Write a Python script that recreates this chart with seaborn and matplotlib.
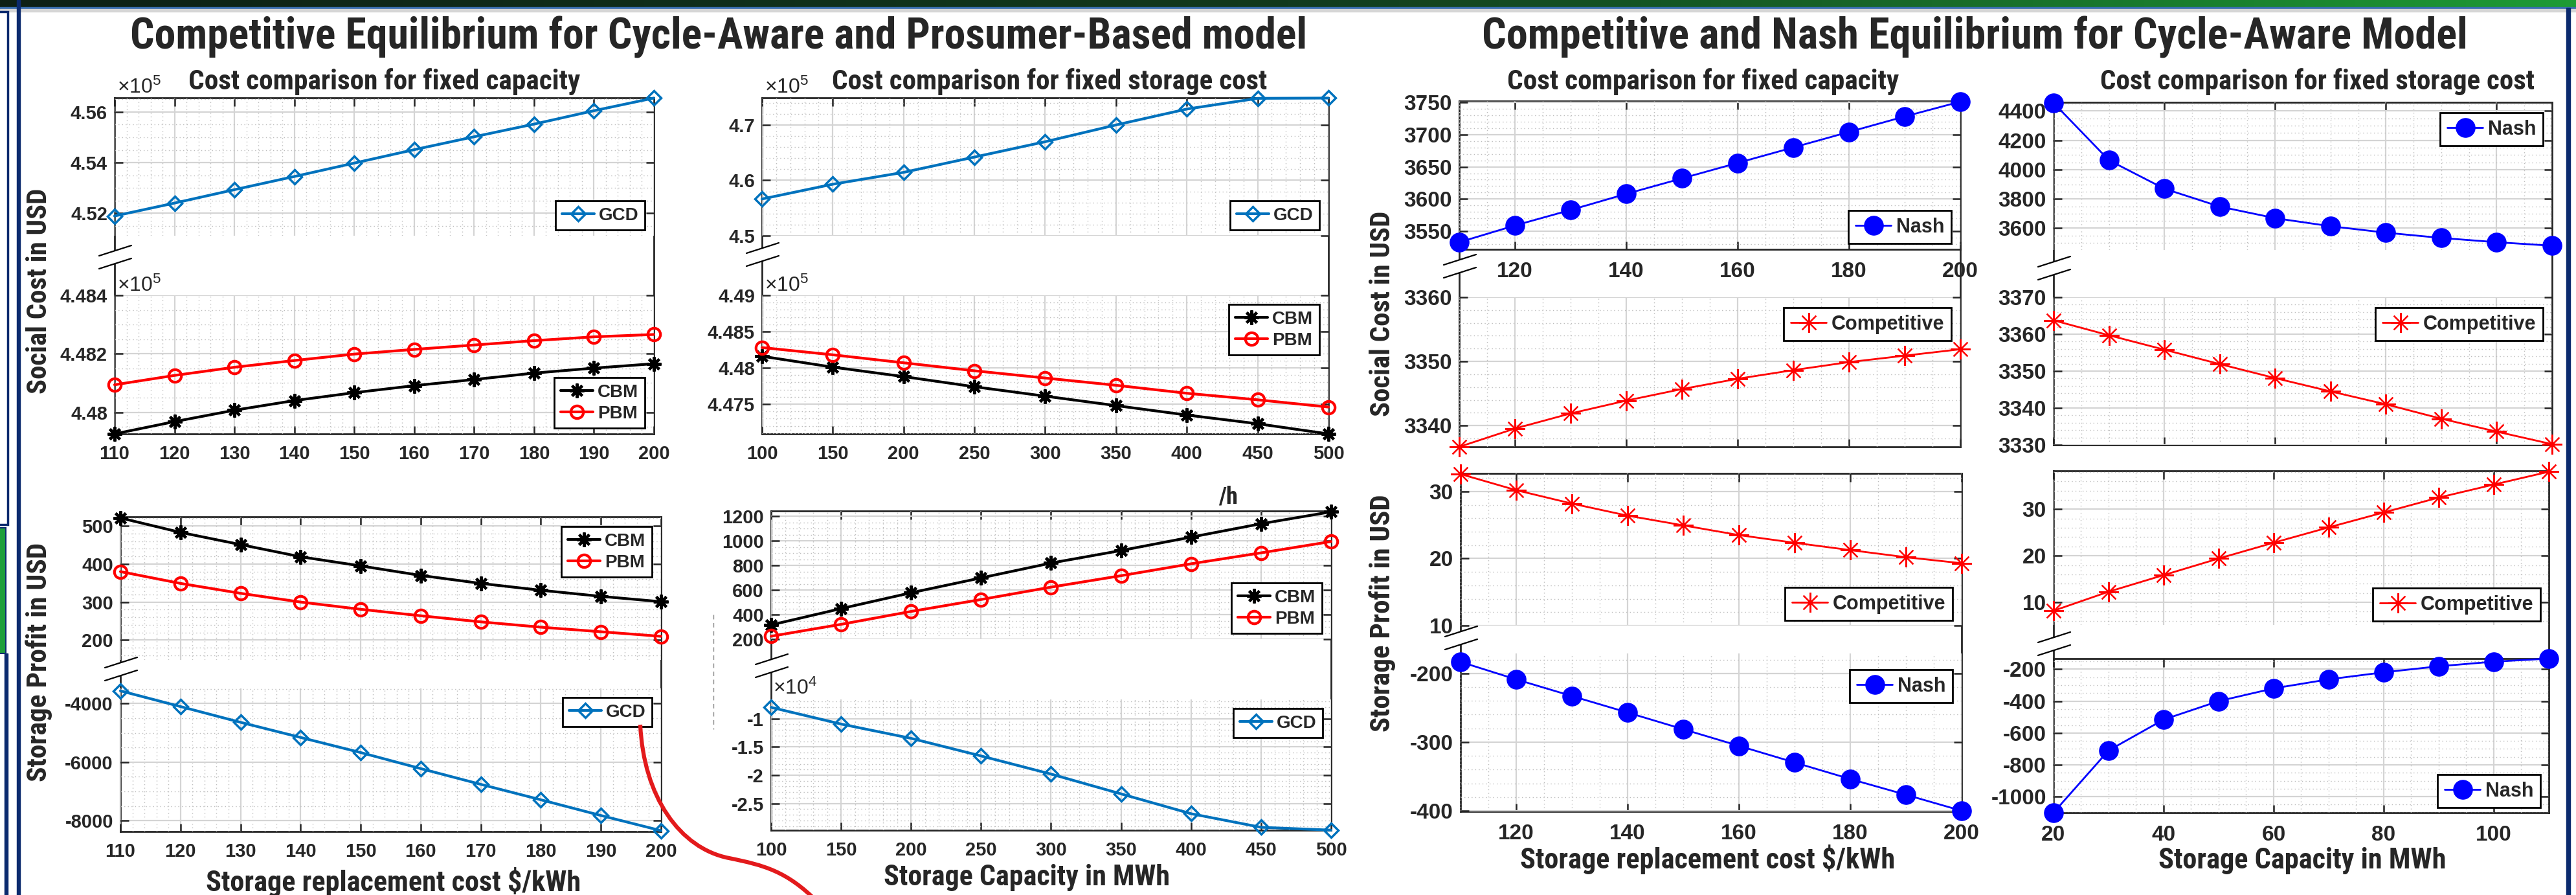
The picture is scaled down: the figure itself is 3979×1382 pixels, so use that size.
import matplotlib
matplotlib.use("Agg")
import numpy as np
import matplotlib.pyplot as plt
import matplotlib.transforms as mtransforms
from matplotlib.path import Path
from matplotlib.patches import PathPatch, Rectangle
from matplotlib.lines import Line2D
from matplotlib.colors import LinearSegmentedColormap
from matplotlib.ticker import FixedLocator, AutoMinorLocator, FuncFormatter
from matplotlib import font_manager
import seaborn as sns

W, H = 3980, 1382

repl_cost = [110, 120, 130, 140, 150, 160, 170, 180, 190, 200]      # $/kWh
capacity_mwh = [100, 150, 200, 250, 300, 350, 400, 450, 500]        # MWh
capacity_small = [20, 30, 40, 50, 60, 70, 80, 90, 100, 110]         # MWh

# Cycle-aware (CBM), prosumer-based (PBM) and GCD - social cost in USD
gcd_cost_vs_repl = [451890, 452400, 452930, 453450, 453980, 454510, 455020, 455520, 456050, 456550]
pbm_cost_vs_repl = [448094, 448126, 448154, 448177, 448199, 448215, 448230, 448245, 448258, 448266]
cbm_cost_vs_repl = [447926, 447968, 448007, 448040, 448067, 448091, 448112, 448134, 448151, 448166]
gcd_cost_vs_cap = [456630, 459300, 461440, 464200, 466970, 470000, 472870, 474800, 474850]
pbm_cost_vs_cap = [448280, 448180, 448070, 447960, 447860, 447760, 447650, 447560, 447460]
cbm_cost_vs_cap = [448160, 448010, 447880, 447740, 447610, 447480, 447350, 447230, 447090]

# storage profit in USD
cbm_profit_vs_repl = [521, 483, 451, 419, 395, 370, 349, 331, 315, 301]
pbm_profit_vs_repl = [380, 349, 323, 300, 281, 264, 248, 234, 222, 210]
gcd_profit_vs_repl = [-3566, -4103, -4641, -5158, -5674, -6222, -6760, -7287, -7824, -8341]
cbm_profit_vs_cap = [316, 449, 578, 699, 820, 922, 1031, 1140, 1237]
pbm_profit_vs_cap = [224, 321, 426, 523, 624, 717, 814, 903, 995]
gcd_profit_vs_cap = [-8020, -10970, -13490, -16600, -19800, -23300, -26800, -29200, -29700]

# Competitive vs Nash equilibrium (cycle-aware model)
nash_cost_vs_repl = [3533, 3559, 3583, 3608, 3632, 3656, 3680, 3704, 3728, 3751]
comp_cost_vs_repl = [3336.7, 3339.55, 3341.9, 3343.9, 3345.7, 3347.3, 3348.65, 3349.9, 3350.9, 3351.9]
nash_cost_vs_cap = [4455, 4064, 3870, 3748, 3669, 3614, 3570, 3534, 3505, 3481]
comp_cost_vs_cap = [3363.75, 3359.7, 3355.8, 3351.9, 3348.1, 3344.5, 3341.0, 3337.1, 3333.6, 3330.2]
comp_profit_vs_repl = [32.6, 30.2, 28.2, 26.4, 24.95, 23.5, 22.35, 21.26, 20.2, 19.3]
nash_profit_vs_repl = [-183.3, -208.8, -233, -257, -281.3, -305.5, -329.7, -353.8, -376.7, -400]
comp_profit_vs_cap = [8.18, 12.27, 15.84, 19.4, 22.8, 26.1, 29.3, 32.5, 35.3, 38.05]
nash_profit_vs_cap = [-1100, -710, -516, -400, -320, -263, -219, -181, -152, -133]

# ---------------- style ----------------
sns.set_style("white")
have = {f.name for f in font_manager.fontManager.ttflist}
TICK_FONT = "Liberation Sans" if "Liberation Sans" in have else "DejaVu Sans"
# headings on the poster are a condensed bold face, take the closest one installed
HEAD_FONT = "DejaVu Sans"
for cand in ("Roboto Condensed", "Liberation Sans Narrow", "Lato"):
    if cand in have:
        HEAD_FONT = cand
        break
plt.rcParams["font.family"] = [TICK_FONT, "DejaVu Sans"]
plt.rcParams["font.weight"] = "bold"
plt.rcParams["mathtext.default"] = "regular"

INK = "#262626"
STYLE = {
    "GCD": dict(color="#0072BD", marker="D", markersize=11, markerfacecolor="none",
                markeredgecolor="#0072BD", markeredgewidth=2.5, linewidth=3),
    "CBM": dict(color="black", marker=(8, 2, 0), markersize=16,
                markeredgecolor="black", markeredgewidth=3, linewidth=3),
    "PBM": dict(color="red", marker="o", markersize=14, markerfacecolor="none",
                markeredgecolor="red", markeredgewidth=3, linewidth=3),
    "Nash": dict(color="blue", marker="o", markersize=21, markerfacecolor="blue",
                 markeredgecolor="blue", markeredgewidth=1, linewidth=2),
    "Competitive": dict(color="red", marker=(8, 2, 0), markersize=22,
                        markeredgecolor="red", markeredgewidth=1.6, linewidth=2),
}

fig = plt.figure(figsize=(W / 100, H / 100), dpi=100)
fig.patch.set_facecolor("white")
# pixel coordinates, origin top-left
px = mtransforms.Affine2D().scale(1 / W, -1 / H).translate(0, 1) + fig.transFigure


def px_rect(l, t, r, b):
    return [l / W, 1 - b / H, (r - l) / W, (b - t) / H]


fmt = FuncFormatter(lambda v, p: f"{v:g}")

# box = (left, right, top, upper bottom, lower top, bottom) in pixels
panels = [
    dict(box=(177, 1010, 151, 364, 456, 670), x=repl_cost, xticks=repl_cost, xlim=(110, 200),
         xlabels="lower", brk=397, small=True,
         upper=dict(series=[("GCD", gcd_cost_vs_repl)], scale=1e5, ylim=(4.5111, 4.5656),
                    yticks=[4.52, 4.54, 4.56], legend=(996, 310), exp=(181, 144, 5)),
         lower=dict(series=[("CBM", cbm_cost_vs_repl), ("PBM", pbm_cost_vs_repl)], scale=1e5,
                    ylim=(4.47926, 4.484), yticks=[4.48, 4.482, 4.484], legend=(996, 583),
                    exp=(181, 450, 5))),
    dict(box=(1177, 2052, 151, 364, 456, 670), x=capacity_mwh, xticks=capacity_mwh, xlim=(100, 500),
         xlabels="lower", brk=393, small=True,
         upper=dict(series=[("GCD", gcd_cost_vs_cap)], scale=1e5, ylim=(4.5, 4.749),
                    yticks=[4.5, 4.6, 4.7], legend=(2038, 310), exp=(1181, 144, 5)),
         lower=dict(series=[("CBM", cbm_cost_vs_cap), ("PBM", pbm_cost_vs_cap)], scale=1e5,
                    ylim=(4.4709, 4.49), yticks=[4.475, 4.48, 4.485, 4.49], legend=(2038, 470),
                    exp=(1181, 450, 5))),
    dict(box=(186, 1021, 798, 1019, 1063, 1284), x=repl_cost, xticks=repl_cost, xlim=(110, 200),
         xlabels="lower", brk=1033, small=True,
         upper=dict(series=[("CBM", cbm_profit_vs_repl), ("PBM", pbm_profit_vs_repl)],
                    ylim=(148, 524), yticks=[200, 300, 400, 500], legend=(1007, 813)),
         lower=dict(series=[("GCD", gcd_profit_vs_repl)], ylim=(-8372, -3483),
                    yticks=[-8000, -6000, -4000], legend=(1007, 1077))),
    dict(box=(1191, 2056, 789, 987, 1080, 1282), x=capacity_mwh, xticks=capacity_mwh, xlim=(100, 500),
         xlabels="lower", brk=1028, small=True,
         upper=dict(series=[("CBM", cbm_profit_vs_cap), ("PBM", pbm_profit_vs_cap)],
                    ylim=(200, 1244), yticks=[200, 400, 600, 800, 1000, 1200], legend=(2042, 900)),
         lower=dict(series=[("GCD", gcd_profit_vs_cap)], scale=1e4, ylim=(-2.972, -0.662),
                    yticks=[-2.5, -2, -1.5, -1], legend=(2043, 1094), exp=(1194, 1072, 4))),
    dict(box=(2254, 3028, 156, 385, 459, 690), x=repl_cost, xticks=[120, 140, 160, 180, 200],
         xlim=(110, 200), xlabels="upper", brk=411, small=False, upper_box=True,
         upper=dict(series=[("Nash", nash_cost_vs_repl)], ylim=(3522, 3752),
                    yticks=[3550, 3600, 3650, 3700, 3750], legend=(3014, 325)),
         lower=dict(series=[("Competitive", comp_cost_vs_repl)], ylim=(3336.7, 3360),
                    yticks=[3340, 3350, 3360], legend=(3014, 475))),
    dict(box=(3172, 3942, 158, 386, 459, 687), x=capacity_small, xticks=[20, 40, 60, 80, 100],
         xlim=(20, 110), xlabels=None, brk=414, small=False,
         upper=dict(series=[("Nash", nash_cost_vs_cap)], ylim=(3452, 4459),
                    yticks=[3600, 3800, 4000, 4200, 4400], legend=(3928, 174)),
         lower=dict(series=[("Competitive", comp_cost_vs_cap)], ylim=(3330, 3370),
                    yticks=[3330, 3340, 3350, 3360, 3370], legend=(3928, 475))),
    dict(box=(2256, 3030, 731, 966, 1009, 1253), x=repl_cost, xticks=[120, 140, 160, 180, 200],
         xlim=(110, 200), xlabels="lower", brk=985, small=False,
         upper=dict(series=[("Competitive", comp_profit_vs_repl)], ylim=(10, 32.7),
                    yticks=[10, 20, 30], legend=(3016, 907)),
         lower=dict(series=[("Nash", nash_profit_vs_repl)], ylim=(-401, -171),
                    yticks=[-400, -300, -200], legend=(3016, 1034))),
    dict(box=(3172, 3937, 727, 965, 1017, 1255), x=capacity_small, xticks=[20, 40, 60, 80, 100],
         xlim=(20, 110), xlabels="lower", brk=994, small=False, lower_box=True,
         upper=dict(series=[("Competitive", comp_profit_vs_cap)], ylim=(5.13, 38.25),
                    yticks=[10, 20, 30], legend=(3924, 908)),
         lower=dict(series=[("Nash", nash_profit_vs_cap)], ylim=(-1101, -133),
                    yticks=[-1000, -800, -600, -400, -200], legend=(3924, 1196))),
]


def draw_panel(p):
    l, r, t, ub, lt, b = p["box"]
    small = p["small"]
    ticksize = 21 if small else 24
    legsize = 20 if small else 22
    xpad = 12 if small else 14

    # outer box shared by both halves of the broken axis
    frame = fig.add_axes(px_rect(l, t, r, b), zorder=0)
    frame.set_xticks([])
    frame.set_yticks([])
    frame.set_facecolor("white")
    for s in frame.spines.values():
        s.set_linewidth(2)
        s.set_color(INK)

    for key, (top, bot) in (("upper", (t, ub)), ("lower", (lt, b))):
        part = p[key]
        ax = fig.add_axes(px_rect(l, top, r, bot), zorder=1)
        ax.set_facecolor("none")
        for s in ax.spines.values():
            s.set_visible(False)
        scale = part.get("scale", 1)
        for name, vals in part["series"]:
            sns.lineplot(x=p["x"], y=np.asarray(vals) / scale, ax=ax, label=name,
                         clip_on=False, zorder=3, **STYLE[name])
        ax.set_xlim(p["xlim"])
        ax.set_ylim(part["ylim"])
        ax.set_xlabel("")
        ax.set_ylabel("")
        ax.xaxis.set_major_locator(FixedLocator(p["xticks"]))
        ax.yaxis.set_major_locator(FixedLocator(part["yticks"]))
        ax.xaxis.set_minor_locator(AutoMinorLocator())
        ax.yaxis.set_minor_locator(AutoMinorLocator())
        ax.xaxis.set_major_formatter(fmt)
        ax.yaxis.set_major_formatter(fmt)

        show_lab = p["xlabels"] == key
        if key == "upper":
            ax.tick_params(axis="x", top=True, bottom=p.get("upper_box", False),
                           labelbottom=show_lab)
            if p.get("upper_box", False):
                ax.spines["bottom"].set_visible(True)
                ax.spines["bottom"].set_linewidth(2)
                ax.spines["bottom"].set_color(INK)
        else:
            ax.tick_params(axis="x", bottom=True, top=p.get("lower_box", False),
                           labelbottom=show_lab)
            if p.get("lower_box", False):
                ax.spines["top"].set_visible(True)
                ax.spines["top"].set_linewidth(2)
                ax.spines["top"].set_color(INK)
        ax.tick_params(which="major", direction="in", length=9, width=1.8, color=INK,
                       labelsize=ticksize, labelcolor=INK, left=True, right=True)
        ax.tick_params(axis="x", which="major", pad=xpad)
        ax.tick_params(axis="y", which="major", pad=8)
        ax.tick_params(which="minor", length=0)
        ax.grid(True, which="major", color="#d4d4d4", linewidth=1.6)
        ax.grid(True, which="minor", color="#bdbdbd", linewidth=1.0, linestyle=(0, (1, 3)))
        ax.set_axisbelow(True)

        leg = ax.legend(loc="upper right", bbox_to_anchor=part["legend"], bbox_transform=px,
                        prop=dict(family=TICK_FONT, weight="bold", size=legsize),
                        frameon=True, fancybox=False, framealpha=1, edgecolor="black",
                        borderpad=0.35, handletextpad=0.25, handlelength=1.8,
                        borderaxespad=0, labelspacing=0.25)
        leg.get_frame().set_linewidth(2)
        leg.set_zorder(6)

        if "exp" in part:
            ex, ey, n = part["exp"]
            fig.text(ex, ey, rf"$\times10^{{{n}}}$", transform=px, fontsize=23,
                     fontweight="normal", color=INK, ha="left", va="baseline")

    # axis-break marks on the left spine
    yc = p["brk"]
    fig.add_artist(Rectangle((l - 4, yc - 9), 8, 18, transform=px, color="white", zorder=10))
    for dy in (-10, 10):
        fig.add_artist(Line2D([l - 24, l + 26], [yc + dy + 8, yc + dy - 8], transform=px,
                              color="black", linewidth=1.6, zorder=11))


for p in panels:
    draw_panel(p)

# ---------------- poster decoration ----------------
hdr = fig.add_axes([0, 1 - 11 / H, 1, 11 / H], zorder=5)
hdr_cmap = LinearSegmentedColormap.from_list("hdr", ["#0d2015", "#123a1d", "#1e9b35"])
hdr.imshow(np.linspace(0, 1, 256)[None, :], aspect="auto", cmap=hdr_cmap, extent=[0, 1, 0, 1])
hdr.axis("off")
fig.add_artist(Rectangle((0, 11), W, 3, transform=px, color="#3a6fb0", zorder=20))
fig.add_artist(Rectangle((0, 14), W, 4, transform=px, color="#d6d6d6", zorder=20))

navy = "#0b2a6e"
fig.add_artist(Rectangle((26, 0), 5, H, transform=px, color=navy, zorder=20))
fig.add_artist(Rectangle((-10, 18), 22, 792, transform=px, facecolor="white",
                         edgecolor=navy, linewidth=2.5, zorder=20))
fig.add_artist(Rectangle((-10, 815), 19, 194, transform=px, facecolor="#1e9e3a",
                         edgecolor=navy, linewidth=1.5, zorder=20))
fig.add_artist(Rectangle((7, 1009), 5, H - 1009, transform=px, color=navy, zorder=20))
fig.add_artist(Rectangle((3964, 12), 6, H, transform=px, color=navy, zorder=20))

# hand-drawn red arrow curve
curve = Path([(989, 1119), (994, 1230), (1050, 1310), (1126, 1325),
              (1180, 1336), (1215, 1345), (1262, 1392)],
             [Path.MOVETO, Path.CURVE4, Path.CURVE4, Path.CURVE4,
              Path.CURVE4, Path.CURVE4, Path.CURVE4])
fig.add_artist(PathPatch(curve, transform=px, fill=False, edgecolor="#e31a1c",
                         linewidth=4.5, zorder=12, clip_on=False))

# leftovers of the pasted figures
fig.add_artist(Line2D([1102, 1102], [949, 1126], transform=px, color="#8a8a8a",
                      linewidth=1, linestyle=(0, (5, 4)), zorder=11))
fig.text(1912, 778, "/h", transform=px, family=[HEAD_FONT, "DejaVu Sans"], fontweight="bold",
         fontsize=26, ha="right", va="baseline")

# ---------------- headings, fitted to the measured widths ----------------
fits = []


def head(x, y, s, length, rotate=False):
    if rotate:
        t = fig.text(x, y, s, transform=px, family=[HEAD_FONT, "DejaVu Sans"], fontweight="bold",
                     fontsize=30, rotation=90, rotation_mode="anchor", ha="center", va="baseline")
    else:
        t = fig.text(x, y, s, transform=px, family=[HEAD_FONT, "DejaVu Sans"], fontweight="bold",
                     fontsize=30, ha="center", va="baseline")
    fits.append((t, length, rotate))


head(1110, 76, "Competitive Equilibrium for Cycle-Aware and Prosumer-Based model", 1820)
head(3050, 76, "Competitive and Nash Equilibrium for Cycle-Aware Model", 1524)
head(594, 138, "Cost comparison for fixed capacity", 607)
head(1621, 138, "Cost comparison for fixed storage cost", 674)
head(2631, 138, "Cost comparison for fixed capacity", 606)
head(3580, 138, "Cost comparison for fixed storage cost", 672)
head(608, 1376, "Storage replacement cost $/kWh", 579)
head(1586, 1367, "Storage Capacity in MWh", 442)
head(2638, 1341, "Storage replacement cost $/kWh", 579)
head(3556, 1341, "Storage Capacity in MWh", 444)
head(72, 449, "Social Cost in USD", 317, rotate=True)
head(72, 1022, "Storage Profit in USD", 370, rotate=True)
head(2147, 484, "Social Cost in USD", 317, rotate=True)
head(2147, 947, "Storage Profit in USD", 367, rotate=True)

renderer = fig.canvas.get_renderer()
for t, length, rotate in fits:
    bb = t.get_window_extent(renderer)
    cur = bb.height if rotate else bb.width
    t.set_fontsize(t.get_fontsize() * length / cur)

fig.savefig("out.png", dpi=100, facecolor="white")
